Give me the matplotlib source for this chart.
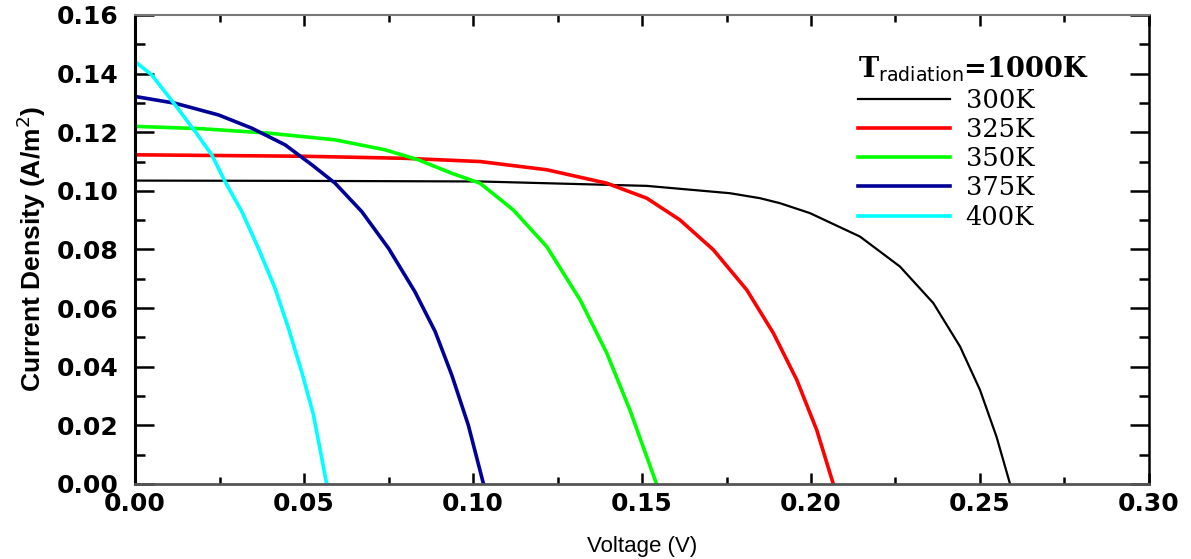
import numpy as np
import matplotlib.pyplot as plt
from matplotlib.ticker import MultipleLocator

# curvas J-V leidas para cada temperatura de la celda
temps = ['300K', '325K', '350K', '375K', '400K']
colores = ['black', '#ff0000', '#00ff00', '#000099', '#00ffff']

v_300 = [0.0, 0.05, 0.1021, 0.1514, 0.176, 0.1849, 0.1908, 0.1997, 0.2145, 0.2263,
         0.2362, 0.2441, 0.2500, 0.2549, 0.2589]
j_300 = [0.1035, 0.1034, 0.1032, 0.1017, 0.0992, 0.0975, 0.0958, 0.0924, 0.0844, 0.0742,
         0.0617, 0.0469, 0.0321, 0.0161, 0.0]

v_325 = [0.0, 0.05, 0.08, 0.1021, 0.1218, 0.1396, 0.1514, 0.1612, 0.1711, 0.181,
         0.1889, 0.1958, 0.2017, 0.2066]
j_325 = [0.1123, 0.1118, 0.1111, 0.1100, 0.1072, 0.1026, 0.0975, 0.0901, 0.0799, 0.0662,
         0.0514, 0.0355, 0.0184, 0.0]

v_350 = [0.0, 0.0197, 0.0394, 0.0592, 0.074, 0.0838, 0.0937, 0.1021, 0.1119,
         0.1218, 0.1317, 0.1396, 0.1464, 0.1543]
j_350 = [0.1220, 0.1212, 0.1197, 0.1174, 0.1140, 0.1106, 0.1060, 0.1026, 0.0935,
         0.0810, 0.0628, 0.0446, 0.0253, 0.0]

v_375 = [0.0, 0.0118, 0.0247, 0.0345, 0.0444, 0.0523, 0.0592, 0.0671, 0.075, 0.0828,
         0.0888, 0.0937, 0.0986, 0.1031]
j_375 = [0.1322, 0.1299, 0.1259, 0.1214, 0.1157, 0.1089, 0.1026, 0.0929, 0.0804, 0.0656,
         0.0520, 0.0372, 0.0201, 0.0]

v_400 = [0.0, 0.0049, 0.0118, 0.0178, 0.0227, 0.0266, 0.0316, 0.0365, 0.0414, 0.0454,
         0.0493, 0.0528, 0.0567]
j_400 = [0.1441, 0.1396, 0.1294, 0.1202, 0.1123, 0.1032, 0.0929, 0.0804, 0.0668, 0.0531,
         0.0383, 0.0235, 0.0]

curvas = [(v_300, j_300), (v_325, j_325), (v_350, j_350), (v_375, j_375), (v_400, j_400)]
anchos = [1.6, 2.6, 2.6, 2.6, 2.6]

plt.rcParams['mathtext.fontset'] = 'dejavuserif'

fig = plt.figure(figsize=(11.91, 5.59), dpi=100)
ax = fig.add_axes([0.1134, 0.1342, 0.8513, 0.839])

for (v, j), c, t, w in zip(curvas, colores, temps, anchos):
    ax.plot(v, j, color=c, lw=w, label=t, solid_joinstyle='round')

ax.set_xlim(0, 0.30)
ax.set_ylim(0, 0.16)
ax.xaxis.set_major_locator(MultipleLocator(0.05))
ax.xaxis.set_minor_locator(MultipleLocator(0.025))
ax.yaxis.set_major_locator(MultipleLocator(0.02))
ax.yaxis.set_minor_locator(MultipleLocator(0.01))
ax.xaxis.set_major_formatter(lambda x, pos: '%.2f' % x)
ax.yaxis.set_major_formatter(lambda y, pos: '%.2f' % y)

ax.tick_params(which='both', direction='in', top=True, right=True, width=1.8)
ax.tick_params(axis='y', which='major', length=14, pad=12)
ax.tick_params(axis='y', which='minor', length=7)
ax.tick_params(axis='x', which='major', length=8, pad=6)
ax.tick_params(axis='x', which='minor', length=5)
for lab in ax.get_xticklabels() + ax.get_yticklabels():
    lab.set_fontsize(18)
    lab.set_fontweight('bold')

ax.spines['left'].set_linewidth(2.2)
ax.spines['bottom'].set_linewidth(2.0)
ax.spines['bottom'].set_color('#555555')
ax.spines['top'].set_color('#777777')
ax.spines['top'].set_linewidth(1.5)
ax.spines['right'].set_linewidth(1.8)

ax.set_xlabel('Voltage (V)', fontsize=16, family='Liberation Sans', labelpad=14)
ax.set_ylabel('Current Density (A/m$^\\mathsf{2}$)', fontsize=19, family='Liberation Sans',
              fontweight='bold', labelpad=6)

leg = ax.legend(loc='upper left', bbox_to_anchor=(0.69, 0.965), frameon=False,
                prop={'family': 'DejaVu Serif', 'size': 18.5},
                title='T$_{\\mathsf{radiation}}$=1000K', handlelength=3.6,
                handletextpad=0.6, labelspacing=0.16, alignment='left')
leg.get_title().set_fontproperties({'family': 'DejaVu Serif', 'weight': 'bold', 'size': 19.5})

fig.savefig('out.png', dpi=100)
